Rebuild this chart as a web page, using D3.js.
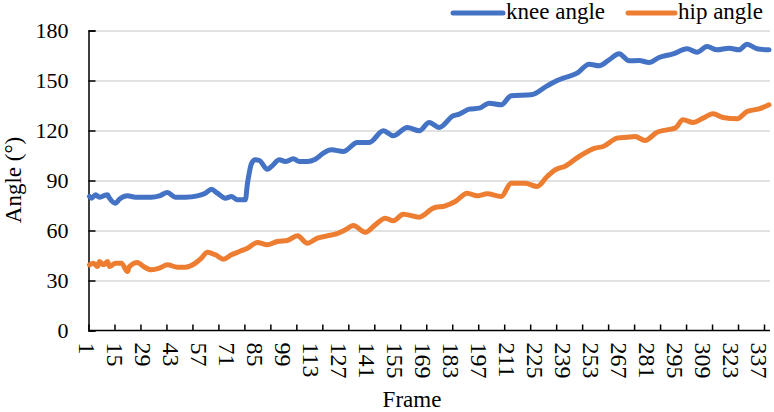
<!DOCTYPE html>
<html>
<head>
<meta charset="utf-8">
<script src="https://cdn.jsdelivr.net/npm/d3@7"></script>
<style>
  html, body { margin: 0; padding: 0; background: #fff; }
  svg { display: block; font-family: "Liberation Serif", "Times New Roman", serif; }
</style>
</head>
<body>
<svg id="chart" width="774" height="412"></svg>
<script>
// ---- data ----
const frameCount = 341;
const yTicks = [0, 30, 60, 90, 120, 150, 180];
const xLabelFrames = d3.range(1, 338, 14); // 1, 15, ... 337
const seriesNames = ["knee angle", "hip angle"];
const seriesColors = ["#4472C4", "#ED7D31"];

const kneeFrames = [1,2,4,6,8,10,11,14,16,20,24,32,36,40,44,49,55,59,62,65,69,72,75,79,80,81,82,84,86,90,92,96,99,103,106,110,114,118,122,128,135,141,148,153,160,166,171,176,183,186,191,196,201,207,212,222,230,235,238,245,251,256,261,266,271,276,281,286,293,300,305,310,315,321,326,330,335,341];
const kneeValues = [80.4,79.4,81.4,80,80.8,81.4,79.4,76.4,78.8,80.8,80,80,80.8,82.8,80,80,80.8,82.4,84.8,82.4,79.4,80.4,78.4,78.4,88,95,100,102.4,102,96.8,98.4,102.4,101.4,103,101.4,101.4,102.8,106.4,108.4,107.4,112.8,112.8,119.8,116.8,121.8,119.8,124.8,121.8,128.8,129.8,132.8,133.4,136.4,135.4,140.8,141.4,146.8,150,151.4,154.4,159.8,158.8,162.4,166,161.8,162,160.8,163.8,166,169,167,170.4,168.4,169.4,168.4,171.8,169,168.4];

const hipFrames = [1,3,5,6,8,10,11,14,17,20,21,25,28,32,36,40,45,49,54,57,60,64,68,72,76,80,85,90,95,100,105,110,115,120,124,129,133,139,144,149,153,158,166,173,179,184,190,195,200,207,212,219,225,230,234,239,246,254,258,265,270,274,279,285,290,294,298,303,308,313,318,325,330,336,341];
const hipValues = [39.4,40.4,38.4,41.4,39.4,41.4,38.4,40.4,40.4,35.4,38.4,40.8,38.4,36.4,37.4,39.4,38,38,40.4,43.4,47,45.4,42.8,45.4,47.4,49.4,52.8,51.4,53.4,54,56.8,52.4,55.4,56.8,57.8,60.4,63,59,63.4,67.4,65.8,69.8,68,73.4,74.8,77.4,82.4,80.8,82,80.4,88.4,88.4,86.4,92.4,96.4,98.6,104.4,109.4,110.4,115.4,116,116.4,114,119,120.4,121.4,126.4,124.8,127.4,130,127.8,127,131.4,133,135.4];

// ---- layout ----
const plot = { left: 88.5, right: 770, top: 30.5, bottom: 330.5 };
const svg = d3.select("#chart");

const x = d3.scaleLinear().domain([0.5, frameCount + 0.5]).range([plot.left, plot.right]);
const y = d3.scaleLinear().domain([0, 180]).range([plot.bottom, plot.top]);

// gridlines
svg.append("g")
  .attr("transform", `translate(${plot.left},0)`)
  .call(d3.axisLeft(y).tickValues(yTicks.filter(d => d > 0)).tickSize(-(plot.right - plot.left)).tickFormat(""))
  .call(g => g.select(".domain").remove())
  .call(g => g.selectAll("line").attr("stroke", "#d9d9d9").attr("stroke-width", 1.5));

// y axis (inner ticks + labels)
const yAxis = svg.append("g")
  .attr("transform", `translate(${plot.left},0)`)
  .call(d3.axisLeft(y).tickValues(yTicks).tickSize(-7).tickPadding(20));
yAxis.select(".domain").attr("stroke", "#000").attr("stroke-width", 1.5);
yAxis.selectAll("line").attr("stroke", "#000").attr("stroke-width", 1.5);
yAxis.selectAll("text").attr("font-size", 22).attr("fill", "#000")
  .attr("font-family", "Liberation Serif, Times New Roman, serif")
  .attr("x", -20);

// x axis tick marks (every 13 frames, between categories, inward)
const tickBounds = d3.range(0, 27).map(k => k * 13 + 0.5);
const xAxis = svg.append("g")
  .attr("transform", `translate(0,${plot.bottom})`)
  .call(d3.axisBottom(x).tickValues(tickBounds).tickSize(-6).tickFormat(""));
xAxis.select(".domain").attr("stroke", "#000").attr("stroke-width", 1.5).attr("d", `M${plot.left},0H${plot.right}`);
xAxis.selectAll("line").attr("stroke", "#000").attr("stroke-width", 1.5);

// x labels (every 14 frames, rotated)
const xLab = svg.append("g")
  .attr("transform", `translate(0,${plot.bottom})`)
  .call(d3.axisBottom(x).tickValues(xLabelFrames).tickSize(0).tickFormat(d3.format("d")));
xLab.select(".domain").remove();
xLab.selectAll("text")
  .attr("font-size", 24).attr("fill", "#000")
  .attr("font-family", "Liberation Serif, Times New Roman, serif")
  .attr("text-anchor", "start")
  .attr("y", 0).attr("dy", "0.33em")
  .attr("transform", "translate(-3,12) rotate(90)");

// lines
const line = d3.line().x(d => x(d[0])).y(d => y(d[1])).curve(d3.curveMonotoneX);
const series = [
  d3.zip(kneeFrames, kneeValues),
  d3.zip(hipFrames, hipValues)
];
svg.append("g").selectAll("path").data(series).join("path")
  .attr("d", line)
  .attr("fill", "none")
  .attr("stroke", (d, i) => seriesColors[i])
  .attr("stroke-width", 5)
  .attr("stroke-linejoin", "round")
  .attr("stroke-linecap", "round");

// axis titles
svg.append("text").text("Frame")
  .attr("x", 412).attr("y", 407)
  .attr("text-anchor", "middle").attr("font-size", 23).attr("fill", "#000");
svg.append("text").text("Angle (°)")
  .attr("transform", "translate(21,180) rotate(-90)")
  .attr("text-anchor", "middle").attr("font-size", 23).attr("fill", "#000");

// legend
const legendPos = [{ x1: 453, x2: 503, tx: 506 }, { x1: 628, x2: 675, tx: 678 }];
const leg = svg.append("g").selectAll("g").data(seriesNames).join("g");
leg.append("line")
  .attr("x1", (d, i) => legendPos[i].x1).attr("x2", (d, i) => legendPos[i].x2)
  .attr("y1", 13).attr("y2", 13)
  .attr("stroke", (d, i) => seriesColors[i]).attr("stroke-width", 5).attr("stroke-linecap", "round");
leg.append("text")
  .attr("x", (d, i) => legendPos[i].tx).attr("y", 19)
  .attr("font-size", 23).attr("fill", "#000")
  .text(d => d);
</script>
</body>
</html>
